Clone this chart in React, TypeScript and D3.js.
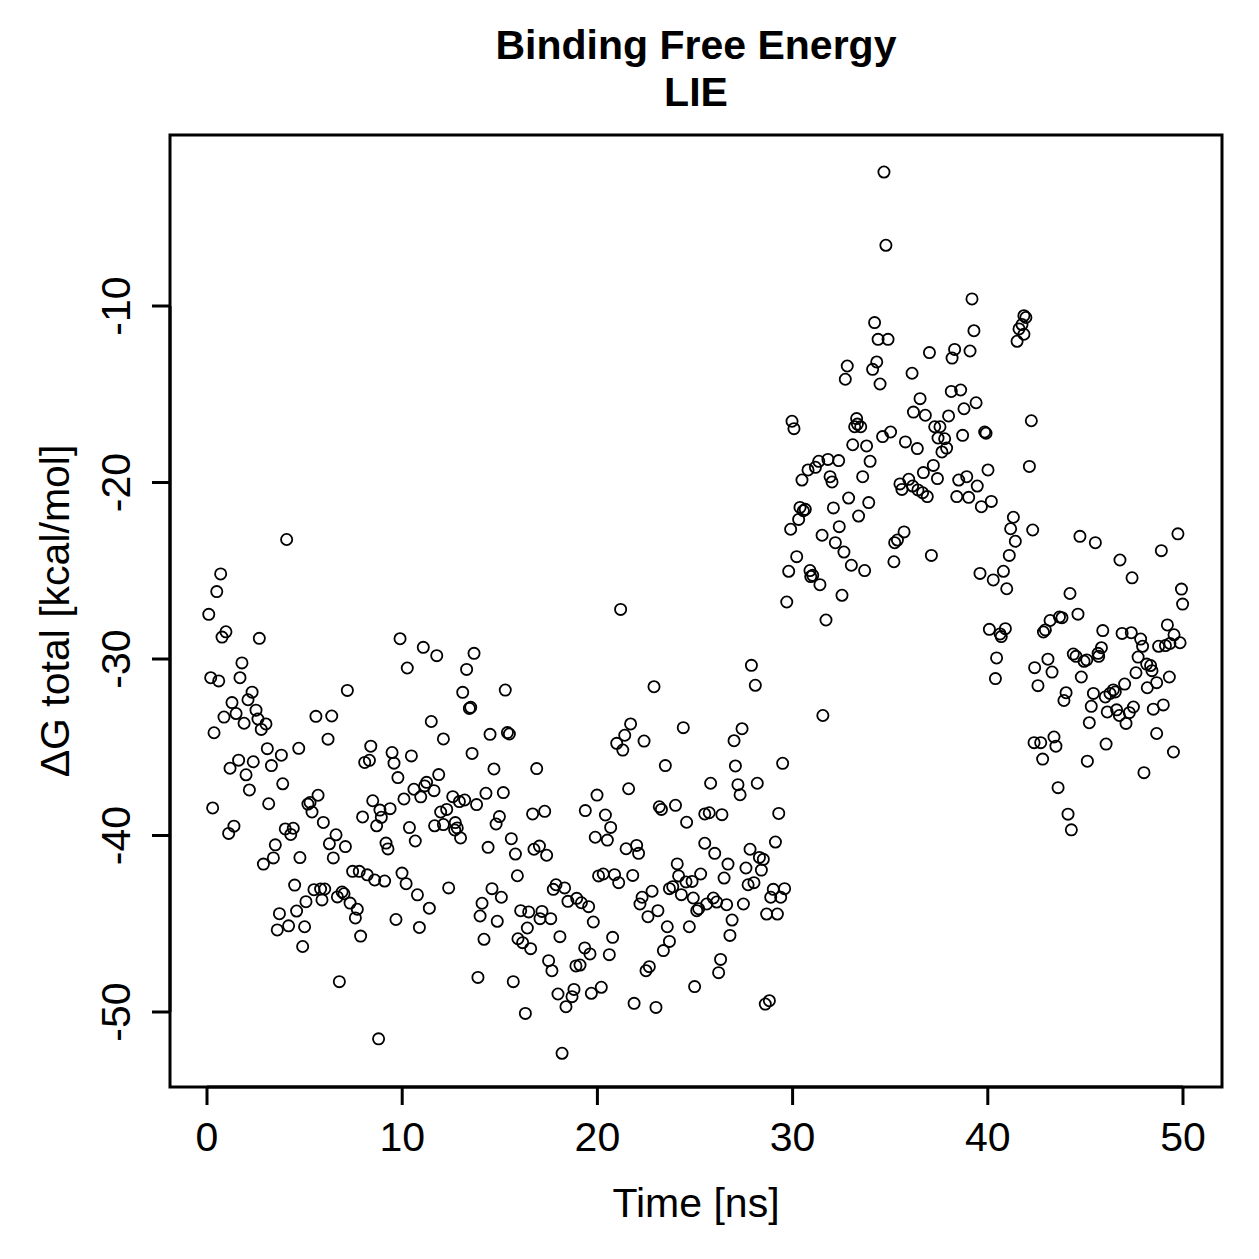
import React, { useMemo } from 'react';
import * as d3 from 'd3';

// plot text
const titleLines = ['Binding Free Energy', 'LIE'];
const xLabel = 'Time [ns]';
const yLabel = 'ΔG total [kcal/mol]';

const xTicks = [0, 10, 20, 30, 40, 50];
const yTicks = [-10, -20, -30, -40, -50];

// [time (ns), ΔG total (kcal/mol)]
const samples: [number, number][] = [
  [4.08, -23.23], [0.70, -25.18], [0.50, -26.18], [0.09, -27.47], [0.97, -28.46], [0.77, -28.76], [2.68, -28.83],
  [1.79, -30.22], [0.19, -31.06], [0.60, -31.24], [1.69, -31.06], [2.31, -31.88], [2.10, -32.31], [1.28, -32.47],
  [2.51, -32.90], [1.49, -33.09], [0.87, -33.29], [1.90, -33.64], [2.61, -33.40], [3.02, -33.68], [2.78, -33.99],
  [0.36, -34.18], [5.58, -33.25], [3.09, -35.08], [3.81, -35.45], [4.70, -35.06], [1.62, -35.73], [2.37, -35.82],
  [1.18, -36.19], [3.30, -36.04], [2.00, -36.56], [2.17, -37.42], [3.88, -37.07], [0.29, -38.44], [3.16, -38.20],
  [5.69, -37.72], [5.17, -38.22], [5.28, -38.13], [5.38, -38.67], [5.96, -39.26], [1.38, -39.47], [1.11, -39.88],
  [4.01, -39.63], [4.42, -39.59], [4.29, -39.94], [3.50, -40.53], [3.40, -41.27], [2.89, -41.62], [4.76, -41.25],
  [4.49, -42.81], [5.48, -43.07], [5.82, -43.03], [6.03, -43.03], [5.89, -43.65], [5.07, -43.75], [4.59, -44.28],
  [3.71, -44.43], [4.18, -45.12], [5.00, -45.17], [3.60, -45.35], [4.90, -46.29],
  [9.89, -28.85], [11.08, -29.34], [11.77, -29.81], [10.26, -30.51], [7.19, -31.78], [6.39, -33.23], [6.20, -34.54],
  [11.49, -33.54], [12.11, -34.53], [8.39, -34.94], [8.08, -35.86], [8.32, -35.74], [9.48, -35.30], [9.58, -35.90],
  [10.47, -35.49], [9.78, -36.72], [11.87, -36.55], [10.60, -37.38], [11.25, -36.99], [11.15, -37.19], [11.63, -37.46],
  [10.95, -37.81], [10.09, -37.93], [8.49, -38.03], [9.38, -38.48], [8.86, -38.56], [7.97, -38.95], [8.93, -38.97],
  [8.69, -39.45], [11.97, -38.67], [12.28, -38.52], [11.66, -39.45], [12.11, -39.38], [10.37, -39.55], [10.67, -40.31],
  [9.17, -40.43], [9.27, -40.76], [6.61, -39.96], [6.27, -40.47], [7.09, -40.63], [6.47, -41.27], [7.46, -42.03],
  [7.80, -42.03], [8.21, -42.23], [8.59, -42.52], [9.10, -42.58], [6.68, -43.48], [6.92, -43.20], [7.02, -43.30],
  [7.33, -43.83], [7.70, -44.18], [7.60, -44.67], [7.87, -45.70], [9.99, -42.13], [10.20, -42.73], [10.78, -43.36],
  [11.39, -44.12], [12.38, -42.97], [9.68, -44.76], [10.88, -45.21], [6.78, -48.28], [8.79, -51.52],
  [13.68, -29.68], [13.30, -30.59], [13.10, -31.89], [15.28, -31.76], [13.44, -32.80], [13.51, -32.74], [14.50, -34.27],
  [15.39, -34.17], [15.49, -34.25], [13.58, -35.35], [14.70, -36.23], [16.89, -36.21], [12.59, -37.80], [12.93, -38.08],
  [13.20, -37.99], [14.29, -37.61], [13.81, -38.25], [15.18, -37.57], [12.72, -39.27], [12.82, -39.57], [12.69, -39.69],
  [12.99, -40.14], [14.98, -38.93], [14.81, -39.35], [16.68, -38.78], [17.30, -38.63], [14.40, -40.67], [15.59, -40.18],
  [15.80, -41.05], [16.75, -40.78], [17.03, -40.60], [17.40, -41.12], [15.90, -42.28], [14.60, -43.01], [15.08, -43.50],
  [14.09, -43.84], [13.99, -44.56], [14.87, -44.86], [14.19, -45.88], [17.88, -42.79], [17.74, -43.05], [18.32, -42.97],
  [18.49, -43.73], [18.94, -43.56], [19.18, -43.81], [16.07, -44.26], [16.48, -44.33], [17.16, -44.30], [17.06, -44.71],
  [17.61, -44.71], [16.41, -45.24], [15.93, -45.85], [16.17, -46.07], [16.58, -46.41], [18.08, -45.73], [17.50, -47.09],
  [17.67, -47.66], [13.88, -48.04], [15.69, -48.28], [18.90, -47.39], [19.11, -47.34], [17.98, -48.98], [18.80, -48.72],
  [18.70, -49.13], [18.39, -49.70], [16.31, -50.08], [18.19, -52.34],
  [21.19, -27.19], [22.90, -31.57], [21.70, -33.68], [21.40, -34.32], [20.99, -34.78], [21.30, -35.16], [22.39, -34.65],
  [24.40, -33.89], [23.48, -36.04], [21.60, -37.35], [19.98, -37.71], [19.38, -38.59], [20.41, -38.84], [20.68, -39.54],
  [19.89, -40.10], [20.51, -40.26], [23.17, -38.37], [23.28, -38.52], [24.00, -38.29], [24.57, -39.25], [21.47, -40.75],
  [22.01, -40.56], [22.11, -41.01], [24.09, -41.61], [20.06, -42.29], [20.30, -42.18], [20.88, -42.22], [21.09, -42.67],
  [21.81, -42.26], [24.16, -42.29], [24.54, -42.63], [24.85, -42.60], [25.29, -42.18], [23.69, -43.01], [23.86, -42.90],
  [24.30, -43.35], [22.80, -43.16], [22.29, -43.50], [22.18, -43.88], [24.91, -43.54], [25.09, -44.26], [25.19, -44.15],
  [19.55, -44.03], [23.10, -44.26], [22.59, -44.60], [19.79, -44.90], [23.58, -45.17], [24.71, -45.17], [23.69, -46.00],
  [23.38, -46.52], [20.78, -45.77], [20.61, -46.75], [19.35, -46.37], [19.62, -46.71], [22.66, -47.43], [22.49, -47.66],
  [20.20, -48.60], [19.69, -48.94], [21.88, -49.51], [23.00, -49.74], [24.98, -48.56],
  [27.89, -30.36], [28.09, -31.49], [27.41, -33.95], [27.00, -34.63], [29.49, -35.91], [27.07, -36.06], [25.80, -37.04],
  [27.20, -37.12], [28.19, -37.04], [27.31, -37.69], [25.50, -38.78], [25.73, -38.71], [26.38, -38.82], [29.29, -38.75],
  [25.50, -40.44], [26.01, -41.01], [29.12, -40.37], [27.82, -40.78], [26.69, -41.62], [28.30, -41.24], [28.50, -41.35],
  [27.61, -41.84], [28.40, -41.96], [26.49, -42.41], [27.72, -42.79], [28.02, -42.67], [29.01, -43.05], [29.59, -43.01],
  [28.88, -43.50], [29.39, -43.50], [25.94, -43.54], [26.11, -43.77], [25.60, -43.88], [26.62, -43.92], [27.48, -43.88],
  [28.67, -44.45], [29.22, -44.45], [26.90, -44.79], [26.79, -45.66], [26.31, -47.02], [26.21, -47.77], [28.60, -49.55],
  [28.81, -49.36],
  [34.68, -2.41], [34.78, -6.56], [34.20, -10.94], [34.38, -11.89], [34.89, -11.89], [32.80, -13.40], [32.70, -14.15],
  [34.31, -13.17], [34.10, -13.59], [34.48, -14.42], [29.97, -16.53], [30.07, -16.95], [33.28, -16.38], [33.18, -16.84],
  [33.49, -16.84], [33.32, -16.69], [35.02, -17.14], [34.61, -17.40], [33.08, -17.86], [33.79, -17.93], [33.97, -18.80],
  [32.36, -18.76], [31.81, -18.69], [31.34, -18.80], [31.17, -19.14], [30.79, -19.29], [30.48, -19.86], [31.92, -19.67],
  [32.02, -19.97], [33.59, -19.67], [32.87, -20.88], [33.90, -21.14], [32.09, -21.44], [33.38, -21.90], [30.38, -21.41],
  [30.55, -21.60], [30.65, -21.52], [30.31, -22.09], [29.90, -22.65], [32.39, -22.50], [31.51, -22.99], [32.19, -23.41],
  [32.63, -23.94], [33.01, -24.69], [33.69, -24.99], [30.21, -24.20], [29.80, -25.03], [30.89, -24.99], [31.03, -25.26],
  [30.93, -25.33], [31.40, -25.79], [32.53, -26.39], [29.70, -26.77], [31.71, -27.79], [31.55, -33.20],
  [39.19, -9.60], [39.29, -11.40], [37.01, -12.64], [38.30, -12.46], [38.17, -12.95], [39.09, -12.55], [36.12, -13.81],
  [38.13, -14.84], [38.61, -14.76], [36.53, -15.25], [36.19, -16.01], [36.80, -16.19], [37.99, -16.23], [38.78, -15.82],
  [39.40, -15.48], [37.28, -16.84], [37.55, -16.84], [37.79, -17.52], [37.45, -17.48], [37.89, -18.05], [37.65, -18.27],
  [38.71, -17.33], [39.84, -17.14], [39.91, -17.21], [35.78, -17.70], [36.39, -18.08], [37.21, -19.03], [36.70, -19.44],
  [37.42, -19.78], [35.50, -20.08], [35.95, -19.82], [35.60, -20.39], [36.15, -20.20], [36.42, -20.42], [36.66, -20.58],
  [36.90, -20.80], [38.51, -19.86], [38.92, -19.67], [39.46, -20.20], [40.01, -19.29], [38.41, -20.80], [39.02, -20.84],
  [39.67, -21.37], [40.18, -21.07], [41.31, -21.97], [41.17, -22.62], [41.41, -23.33], [41.10, -24.13], [35.71, -22.80],
  [35.37, -23.26], [35.23, -23.41], [35.19, -24.49], [37.11, -24.13], [39.60, -25.15], [40.28, -25.52], [40.80, -25.03],
  [40.97, -26.02], [40.08, -28.32], [40.63, -28.58], [40.90, -28.28], [40.69, -28.73], [40.45, -29.94], [40.39, -31.11],
  [41.85, -10.55], [41.95, -10.65], [41.75, -11.05], [41.60, -11.30], [41.85, -11.60], [41.50, -12.00],
  [42.23, -16.50], [42.13, -19.09], [42.30, -22.69], [44.72, -23.05], [45.51, -23.41], [46.77, -24.39], [47.39, -25.40],
  [48.89, -23.86], [49.74, -22.91], [49.92, -26.04], [49.98, -26.89], [44.21, -26.29], [44.62, -27.46], [43.19, -27.82],
  [43.67, -27.62], [43.80, -27.66], [42.95, -28.35], [42.85, -28.47], [45.89, -28.39], [46.88, -28.55], [47.35, -28.51],
  [47.83, -28.87], [47.93, -29.28], [49.20, -28.07], [49.54, -28.63], [48.75, -29.28], [49.10, -29.24], [49.33, -29.12],
  [49.85, -29.08], [44.38, -29.72], [44.52, -29.85], [44.93, -30.13], [45.07, -30.05], [45.65, -29.68], [45.82, -29.36],
  [45.68, -29.85], [47.70, -29.89], [48.14, -30.29], [48.34, -30.37], [48.41, -30.66], [47.59, -30.78], [48.65, -31.34],
  [49.30, -31.02], [48.17, -31.63], [43.08, -30.01], [43.29, -30.74], [42.40, -30.49], [42.57, -31.51], [44.79, -31.02],
  [47.01, -31.42], [45.41, -31.95], [46.26, -31.95], [46.43, -31.75], [46.53, -31.87], [46.02, -32.15], [44.01, -31.91],
  [43.90, -32.35], [45.30, -32.68], [46.12, -33.00], [46.60, -32.88], [47.46, -32.72], [47.25, -33.04], [47.08, -33.65],
  [46.74, -33.20], [48.48, -32.84], [48.99, -32.60], [45.20, -33.61], [48.65, -34.22], [49.51, -35.27], [46.06, -34.82],
  [45.10, -35.79], [48.00, -36.44], [42.37, -34.74], [42.71, -34.74], [43.39, -34.42], [43.49, -34.94], [42.81, -35.67],
  [43.60, -37.29], [44.11, -38.79], [44.28, -39.68],
];

const W = 1259;
const H = 1259;
const box = { left: 170, right: 1222, top: 135, bottom: 1087 };
const font = '"Liberation Sans", Arial, Helvetica, sans-serif';

export default function App() {
  const { x, y } = useMemo(() => {
    const x = d3.scaleLinear().domain([0, 50]).range([207, 1183]);
    const y = d3.scaleLinear().domain([-10, -50]).range([306, 1012]);
    return { x, y };
  }, []);

  const cx = (box.left + box.right) / 2;
  const cy = (box.top + box.bottom) / 2;

  return (
    <svg
      width={W}
      height={H}
      viewBox={`0 0 ${W} ${H}`}
      style={{ position: 'absolute', left: 0, top: 0, background: '#fff' }}
      fontFamily={font}
    >
      <rect width={W} height={H} fill="#fff" />

      {/* title */}
      {titleLines.map((t, i) => (
        <text key={t} x={cx} y={59 + i * 47} textAnchor="middle" fontSize={41} fontWeight="bold" fill="#000">
          {t}
        </text>
      ))}

      {/* points */}
      <g fill="none" stroke="#000" strokeWidth={1.8}>
        {samples.map(([t, v], i) => (
          <circle key={i} cx={x(t)} cy={y(v)} r={5.6} />
        ))}
      </g>

      {/* plot frame */}
      <rect
        x={box.left}
        y={box.top}
        width={box.right - box.left}
        height={box.bottom - box.top}
        fill="none"
        stroke="#000"
        strokeWidth={3}
      />

      {/* x axis */}
      <g stroke="#000" strokeWidth={3}>
        <line x1={x(xTicks[0])} x2={x(xTicks[xTicks.length - 1])} y1={box.bottom} y2={box.bottom} />
        {xTicks.map(t => (
          <line key={t} x1={x(t)} x2={x(t)} y1={box.bottom} y2={box.bottom + 18} />
        ))}
      </g>
      {xTicks.map(t => (
        <text key={t} x={x(t)} y={1151} textAnchor="middle" fontSize={41} fill="#000">
          {t}
        </text>
      ))}
      <text x={cx} y={1217} textAnchor="middle" fontSize={41} fill="#000">
        {xLabel}
      </text>

      {/* y axis */}
      <g stroke="#000" strokeWidth={3}>
        <line x1={box.left} x2={box.left} y1={y(yTicks[0])} y2={y(yTicks[yTicks.length - 1])} />
        {yTicks.map(t => (
          <line key={t} x1={box.left} x2={box.left - 18} y1={y(t)} y2={y(t)} />
        ))}
      </g>
      {yTicks.map(t => (
        <text
          key={t}
          transform={`translate(130, ${y(t)}) rotate(-90)`}
          textAnchor="middle"
          fontSize={41}
          fill="#000"
        >
          {t}
        </text>
      ))}
      <text transform={`translate(69, ${cy}) rotate(-90)`} textAnchor="middle" fontSize={41} fill="#000">
        {yLabel}
      </text>
    </svg>
  );
}
